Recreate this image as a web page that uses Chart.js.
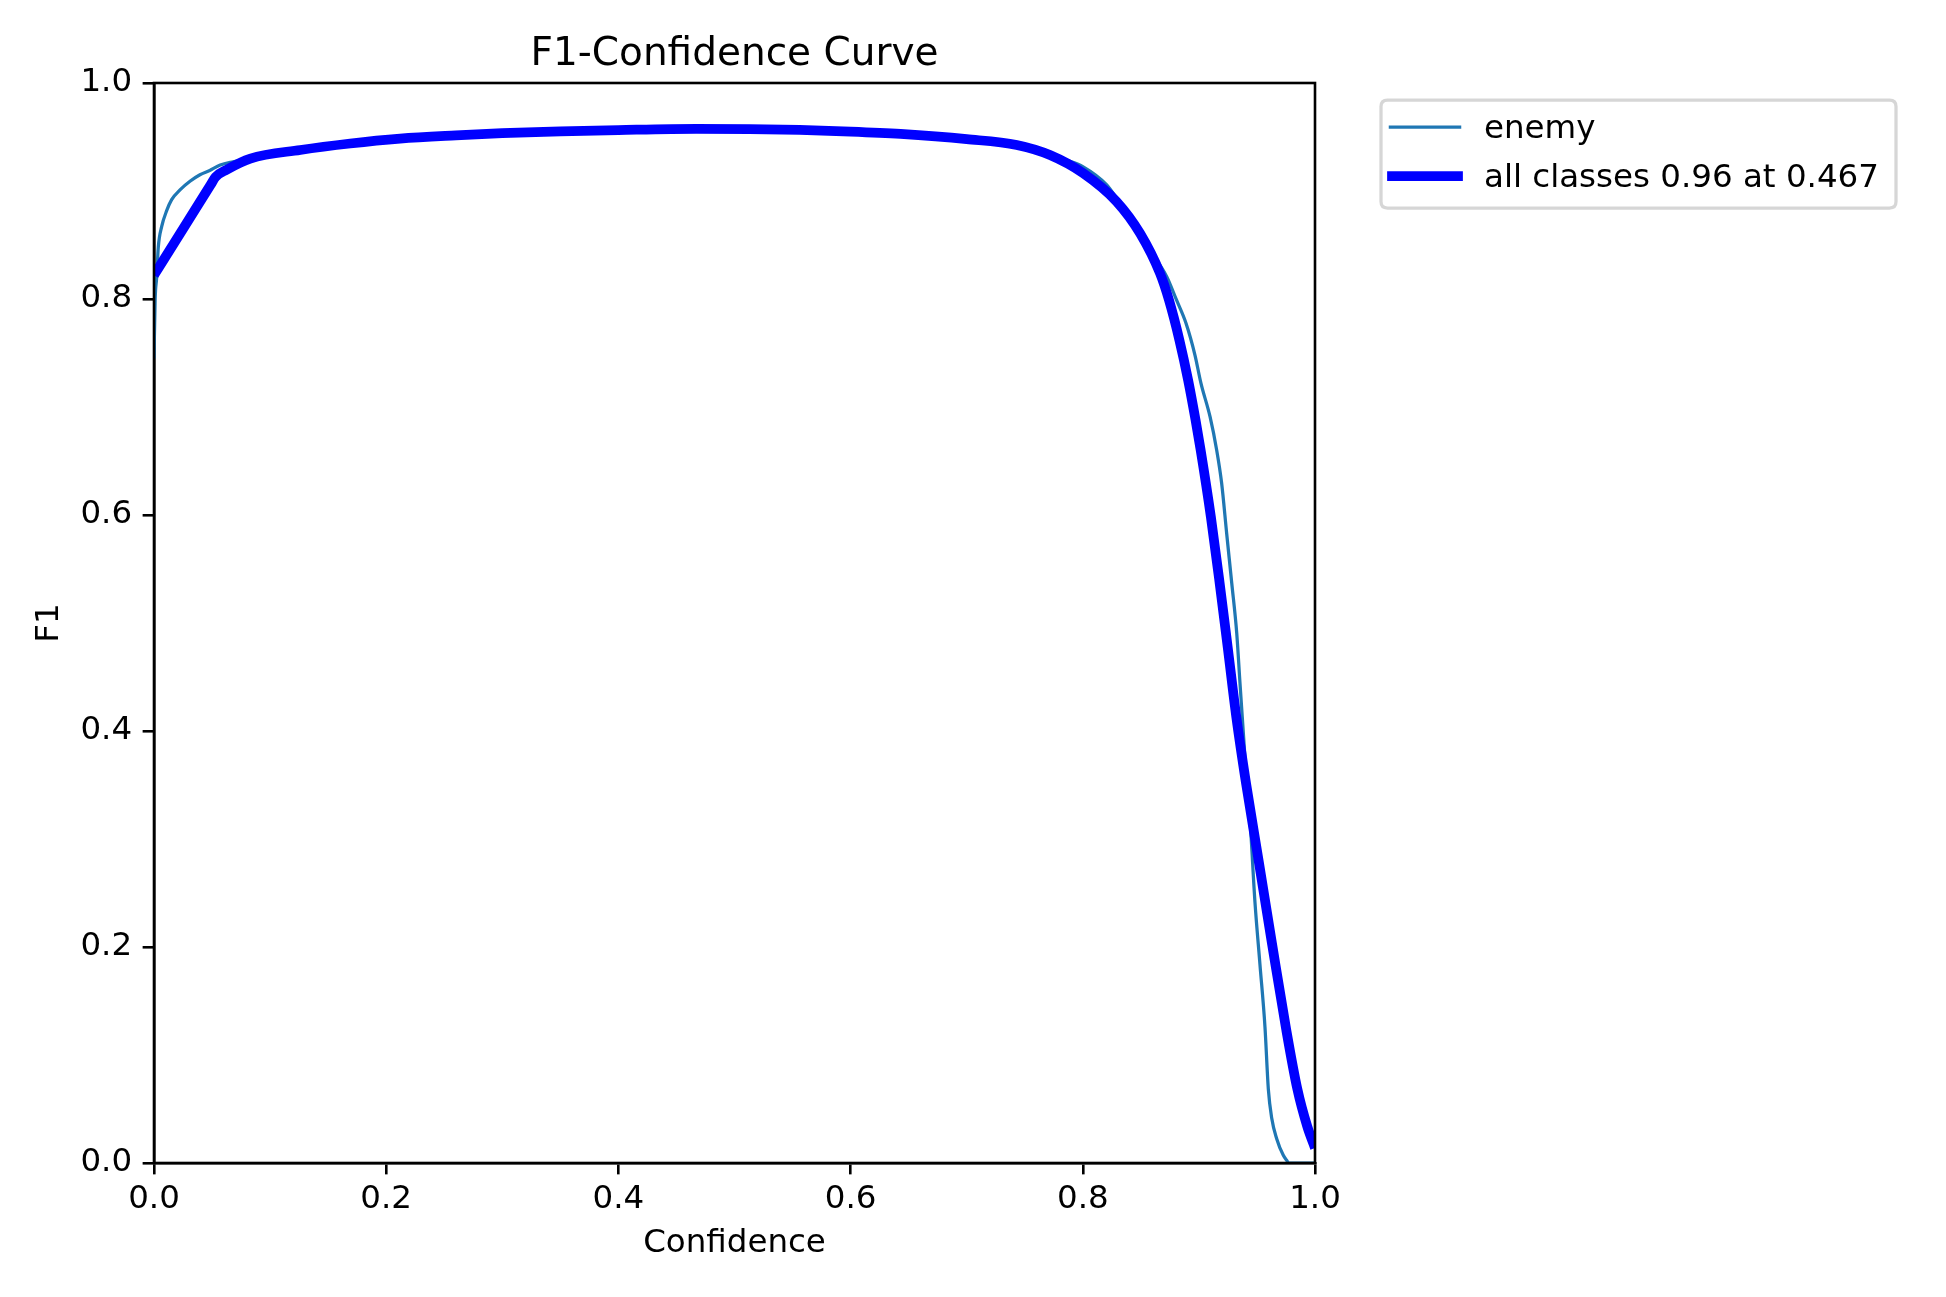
<!DOCTYPE html>
<html>
<head>
<meta charset="utf-8">
<script src="https://cdn.jsdelivr.net/npm/chart.js@4/dist/chart.umd.min.js"></script>
<style>
  html, body { margin: 0; padding: 0; background: #ffffff; }
  canvas { display: block; }
</style>
</head>
<body>
<canvas id="c" width="1946" height="1297" style="width:1946px;height:1297px"></canvas>
<script>
// ---- data ----
const chartTitle = "F1-Confidence Curve";
const xAxisLabel = "Confidence";
const yAxisLabel = "F1";
const xTicks = [0.0, 0.2, 0.4, 0.6, 0.8, 1.0];
const yTicks = [0.0, 0.2, 0.4, 0.6, 0.8, 1.0];

const enemyLabel = "enemy";
const enemyConf = [0.000, 0.001, 0.0023, 0.0037, 0.0066, 0.011, 0.0152, 0.0224, 0.031, 0.0396, 0.048, 0.057, 0.068,
  0.083, 0.126, 0.169, 0.212, 0.260, 0.300, 0.350, 0.400, 0.467, 0.513, 0.556, 0.600, 0.643, 0.700, 0.743, 0.772,
  0.786, 0.800, 0.8206, 0.832, 0.8435, 0.8579, 0.8723, 0.8807, 0.8889, 0.8966, 0.9018, 0.9096, 0.9153, 0.9196,
  0.9239, 0.9283, 0.9326, 0.9354, 0.9383, 0.9412, 0.9440, 0.9483, 0.9526, 0.9569, 0.9598, 0.9627, 0.9670,
  0.9727, 0.9756, 0.9776, 1.000];
const enemyF1 = [0.745, 0.800, 0.820, 0.848, 0.867, 0.882, 0.892, 0.901, 0.909, 0.915, 0.919, 0.924, 0.927,
  0.930, 0.938, 0.944, 0.9485, 0.9515, 0.9535, 0.9552, 0.9564, 0.9575, 0.9572, 0.9565, 0.9550, 0.9528, 0.948, 0.9426, 0.9345,
  0.9287, 0.9225, 0.9056, 0.8886, 0.8716, 0.8454, 0.8207, 0.7991, 0.7775, 0.7481, 0.7219, 0.6910, 0.6602, 0.6294,
  0.5831, 0.5368, 0.4905, 0.4442, 0.3979, 0.3516, 0.3181, 0.2413, 0.1837, 0.1261, 0.0685, 0.0417, 0.0225,
  0.0071, 0.0025, 0.000, 0.000];

const allLabel = "all classes 0.96 at 0.467";
const allConf = [0.000, 0.0265, 0.049, 0.053, 0.0626, 0.083, 0.126, 0.169, 0.212, 0.260, 0.300, 0.350, 0.400,
  0.467, 0.513, 0.556, 0.600, 0.643, 0.700, 0.7431, 0.7717, 0.8004, 0.8292, 0.8493, 0.8665, 0.8742, 0.8832,
  0.8907, 0.8971, 0.9015, 0.9103, 0.9179, 0.9251, 0.9322, 0.9406, 0.9515, 0.9630, 0.9748, 0.9848, 0.9933, 1.000];
const allF1 = [0.822, 0.8675, 0.9061, 0.913, 0.9197, 0.930, 0.938, 0.944, 0.9485, 0.9515, 0.9535, 0.9552, 0.9564,
  0.9575, 0.9572, 0.9565, 0.9550, 0.9528, 0.948, 0.9426, 0.9333, 0.9164, 0.8901, 0.8608, 0.8238, 0.7991, 0.7620,
  0.7250, 0.6880, 0.6602, 0.5984, 0.5368, 0.4750, 0.4132, 0.3516, 0.2796, 0.2029, 0.1261, 0.0685, 0.0340, 0.0139];

// ---- styling ----
const FONT = "'DejaVu Sans', 'Liberation Sans', sans-serif";
const PT = 3.25;            // pixels per point
const TICK_FS = 10 * PT;
const TITLE_FS = 12 * PT;
const SPINE_W = 0.8 * PT;
const TICK_LEN = 3.5 * PT;
const ENEMY_COLOR = "#1f77b4";
const ALL_COLOR = "#0000ff";

const toPts = (xs, ys) => xs.map((x, i) => ({ x: x, y: ys[i] }));

const decorPlugin = {
  id: "mplDecor",
  afterDraw(chart) {
    const ctx = chart.ctx;
    const a = chart.chartArea;
    ctx.save();
    // spines (full box)
    ctx.strokeStyle = "#000000";
    ctx.lineWidth = SPINE_W;
    ctx.lineJoin = "miter";
    ctx.strokeRect(a.left, a.top, a.right - a.left, a.bottom - a.top);

    // title
    ctx.fillStyle = "#000000";
    ctx.font = TITLE_FS + "px " + FONT;
    ctx.textAlign = "center";
    ctx.textBaseline = "alphabetic";
    ctx.fillText(chartTitle, (a.left + a.right) / 2, 65);

    // legend frame
    const lx = 1381, ly = 100, lw = 515, lh = 108, r = 0.2 * TICK_FS;
    ctx.beginPath();
    ctx.moveTo(lx + r, ly);
    ctx.lineTo(lx + lw - r, ly);
    ctx.quadraticCurveTo(lx + lw, ly, lx + lw, ly + r);
    ctx.lineTo(lx + lw, ly + lh - r);
    ctx.quadraticCurveTo(lx + lw, ly + lh, lx + lw - r, ly + lh);
    ctx.lineTo(lx + r, ly + lh);
    ctx.quadraticCurveTo(lx, ly + lh, lx, ly + lh - r);
    ctx.lineTo(lx, ly + r);
    ctx.quadraticCurveTo(lx, ly, lx + r, ly);
    ctx.closePath();
    ctx.fillStyle = "rgba(255,255,255,0.8)";
    ctx.fill();
    ctx.strokeStyle = "rgba(204,204,204,0.8)";
    ctx.lineWidth = 1 * PT;
    ctx.stroke();

    // legend entries
    const ds = chart.data.datasets;
    const rows = [127, 176];
    const order = [1, 0]; // enemy first, then all classes
    order.forEach((di, row) => {
      const d = ds[di];
      const y = rows[row];
      ctx.beginPath();
      ctx.strokeStyle = d.borderColor;
      ctx.lineWidth = d.borderWidth;
      ctx.lineCap = "square";
      const inset = d.borderWidth / 2;
      ctx.moveTo(1392 + (d.borderWidth > 5 ? 0 : -inset) , y);
      ctx.lineTo(1458 + (d.borderWidth > 5 ? 0 : inset), y);
      ctx.stroke();
      ctx.fillStyle = "#000000";
      ctx.font = TICK_FS + "px " + FONT;
      ctx.textAlign = "left";
      ctx.textBaseline = "alphabetic";
      ctx.fillText(d.label, 1484, y + 11);
    });
    ctx.restore();
  }
};

const tickFont = { family: FONT, size: TICK_FS };

new Chart(document.getElementById("c"), {
  type: "line",
  data: {
    datasets: [
      {
        label: allLabel,
        data: toPts(allConf, allF1),
        borderColor: ALL_COLOR,
        backgroundColor: ALL_COLOR,
        borderWidth: 3 * PT,
        pointRadius: 0,
        cubicInterpolationMode: "monotone",
        borderJoinStyle: "round",
        fill: false,
        clip: 0,
        order: 0
      },
      {
        label: enemyLabel,
        data: toPts(enemyConf, enemyF1),
        borderColor: ENEMY_COLOR,
        backgroundColor: ENEMY_COLOR,
        borderWidth: 1 * PT,
        pointRadius: 0,
        cubicInterpolationMode: "monotone",
        borderJoinStyle: "round",
        fill: false,
        clip: 0,
        order: 1
      }
    ]
  },
  options: {
    responsive: false,
    animation: false,
    devicePixelRatio: 1,
    layout: { padding: { top: 83, right: 631, left: 0, bottom: 0 } },
    plugins: {
      legend: { display: false },
      title: { display: false },
      tooltip: { enabled: false }
    },
    scales: {
      x: {
        type: "linear",
        min: 0, max: 1,
        afterBuildTicks: (s) => { s.ticks = xTicks.map(v => ({ value: v })); },
        afterFit: (s) => { s.height = 134; },
        ticks: {
          font: tickFont, color: "#000000", padding: 5.5,
          maxRotation: 0, autoSkip: false,
          callback: (v) => Number(v).toFixed(1)
        },
        grid: {
          display: true, drawOnChartArea: false, drawTicks: true,
          tickLength: TICK_LEN, color: "#000000", lineWidth: SPINE_W
        },
        border: { display: true, color: "#000000", width: SPINE_W },
        title: {
          display: true, text: xAxisLabel, color: "#000000",
          font: tickFont, padding: { top: 0, bottom: 33.5 }
        }
      },
      y: {
        type: "linear",
        min: 0, max: 1,
        afterBuildTicks: (s) => { s.ticks = yTicks.map(v => ({ value: v })); },
        afterFit: (s) => { s.width = 154; },
        ticks: {
          font: tickFont, color: "#000000", padding: 10.5,
          autoSkip: false,
          callback: (v) => Number(v).toFixed(1)
        },
        grid: {
          display: true, drawOnChartArea: false, drawTicks: true,
          tickLength: TICK_LEN, color: "#000000", lineWidth: SPINE_W
        },
        border: { display: true, color: "#000000", width: SPINE_W },
        title: {
          display: true, text: yAxisLabel, color: "#000000",
          font: tickFont, padding: { top: 30, bottom: 0 }
        }
      }
    }
  },
  plugins: [decorPlugin]
});
</script>
</body>
</html>
